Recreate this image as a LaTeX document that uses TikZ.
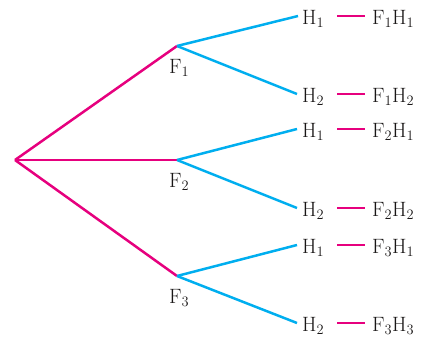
\documentclass[tikz,border=0pt]{standalone}
\begin{document}
\begin{tikzpicture}[x=1pt,y=-1pt,
  mag/.style={draw={rgb,255:red,230;green,0;blue,126},line width=2.5pt},
  cy/.style={draw={rgb,255:red,0;green,174;blue,239},line width=2.5pt},
  lbl/.style={anchor=base west,inner sep=0pt,font=\fontsize{22.5}{26}\selectfont,text={rgb,255:red,25;green,22;blue,22}}]
\useasboundingbox (0,0) rectangle (425,340);
% vertices
\coordinate (R) at (15,160);
\coordinate (F1) at (177,46);
\coordinate (F2) at (177,160);
\coordinate (F3) at (177,276);
% branch ends
\coordinate (E1) at (298,16);
\coordinate (E2) at (297,94);
\coordinate (E3) at (297,129);
\coordinate (E4) at (297,208);
\coordinate (E5) at (297,245);
\coordinate (E6) at (297,323);
% dashes
\foreach \i/\y in {1/16,2/94,3/129,4/208,5/245,6/323}{
  \coordinate (Da\i) at (337,\y);
  \coordinate (Db\i) at (365,\y);
}
\draw[mag] (R) -- (F1);
\draw[mag] (R) -- (F2);
\draw[mag] (R) -- (F3);
\draw[cy] (F1) -- (E1);
\draw[cy] (F1) -- (E2);
\draw[cy] (F2) -- (E3);
\draw[cy] (F2) -- (E4);
\draw[cy] (F3) -- (E5);
\draw[cy] (F3) -- (E6);
\foreach \i in {1,...,6}{\draw[mag] (Da\i) -- (Db\i);}
% F labels
\node[lbl] (LF1) at (169,73) {$\mathrm{F}_{1}$};
\node[lbl] (LF2) at (169,187) {$\mathrm{F}_{2}$};
\node[lbl] (LF3) at (169,303) {$\mathrm{F}_{3}$};
% H labels
\node[lbl] (H1) at (302,24) {$\mathrm{H}_{1}$};
\node[lbl] (H2) at (302,102) {$\mathrm{H}_{2}$};
\node[lbl] (H3) at (302,137) {$\mathrm{H}_{1}$};
\node[lbl] (H4) at (302,216) {$\mathrm{H}_{2}$};
\node[lbl] (H5) at (302,253) {$\mathrm{H}_{1}$};
\node[lbl] (H6) at (302,331) {$\mathrm{H}_{2}$};
% outcomes
\node[lbl] (O1) at (372,24) {$\mathrm{F}_{1}\mathrm{H}_{1}$};
\node[lbl] (O2) at (372,102) {$\mathrm{F}_{1}\mathrm{H}_{2}$};
\node[lbl] (O3) at (372,137) {$\mathrm{F}_{2}\mathrm{H}_{1}$};
\node[lbl] (O4) at (372,216) {$\mathrm{F}_{2}\mathrm{H}_{2}$};
\node[lbl] (O5) at (372,253) {$\mathrm{F}_{3}\mathrm{H}_{1}$};
\node[lbl] (O6) at (372,331) {$\mathrm{F}_{3}\mathrm{H}_{3}$};
\end{tikzpicture}
\end{document}
